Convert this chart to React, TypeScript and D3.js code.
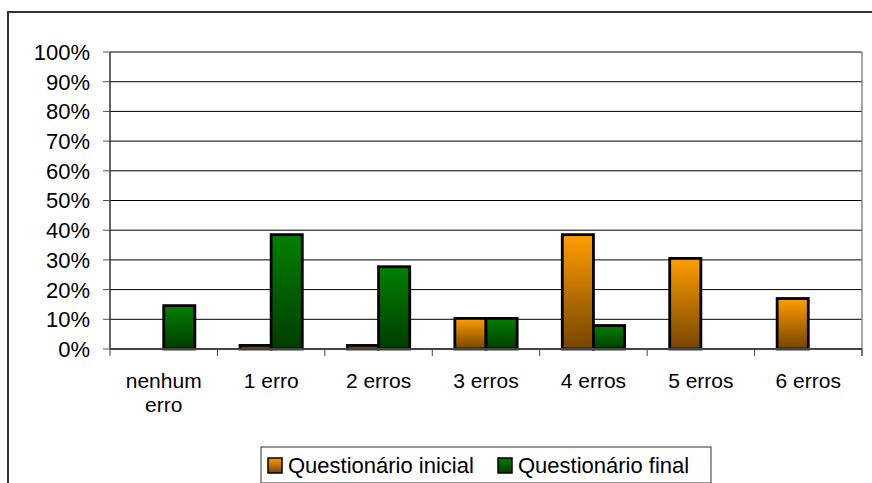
import React from 'react';
import * as d3 from 'd3';

const width = 872;
const height = 483;
const margin = { top: 52, right: 10, bottom: 134, left: 110 };

const categories = ['nenhum erro', '1 erro', '2 erros', '3 erros', '4 erros', '5 erros', '6 erros'];
const seriesNames = ['Questionário inicial', 'Questionário final'];
const inicial = [0, 0.012, 0.012, 0.103, 0.385, 0.305, 0.17];
const final = [0.146, 0.385, 0.277, 0.103, 0.079, 0, 0];
const yTicks = [0, 0.1, 0.2, 0.3, 0.4, 0.5, 0.6, 0.7, 0.8, 0.9, 1];

const font = 'Liberation Sans, Arial, sans-serif';

function App() {
  const x = d3.scaleBand<string>()
    .domain(categories)
    .range([margin.left, width - margin.right])
    .paddingInner(0.42)
    .paddingOuter(0.21);
  const xs = d3.scaleBand<string>().domain(seriesNames).range([0, x.bandwidth()]);
  const y = d3.scaleLinear().domain([0, 1]).range([height - margin.bottom, margin.top]);

  const step = x.step();
  const plotRight = width - margin.right;
  const y0 = y(0);
  const series = [
    { name: seriesNames[0], values: inicial, fill: 'url(#gOrange)' },
    { name: seriesNames[1], values: final, fill: 'url(#gGreen)' },
  ];

  return (
    <svg width={width} height={height} style={{ position: 'absolute', left: 0, top: 0 }}>
      <defs>
        <linearGradient id="gOrange" x1="0" y1="0" x2="0" y2="1">
          <stop offset="0%" stopColor="#ff9d00" />
          <stop offset="100%" stopColor="#774400" />
        </linearGradient>
        <linearGradient id="gGreen" x1="0" y1="0" x2="0" y2="1">
          <stop offset="0%" stopColor="#008000" />
          <stop offset="100%" stopColor="#003c00" />
        </linearGradient>
      </defs>
      <rect x={0} y={0} width={width} height={height} fill="#fff" />
      {/* outer chart border, runs off the picture on right and bottom */}
      <rect x={8} y={12} width={width} height={height} fill="none" stroke="#333" strokeWidth={2} />

      {/* gridlines */}
      {yTicks.map(t => (
        <g key={t}>
          <line x1={margin.left} x2={plotRight} y1={y(t)} y2={y(t)} stroke="#000" strokeWidth={1} />
          <line x1={margin.left - 7} x2={margin.left} y1={y(t)} y2={y(t)} stroke="#555" strokeWidth={1} />
          <text x={90} y={y(t)} dy="0.36em" textAnchor="end" fontFamily={font} fontSize={22} fill="#000">
            {d3.format('.0%')(t)}
          </text>
        </g>
      ))}
      <line x1={margin.left} x2={margin.left} y1={margin.top} y2={y0} stroke="#333" strokeWidth={1.5} />
      <line x1={plotRight} x2={plotRight} y1={margin.top} y2={y0 + 7} stroke="#888" strokeWidth={1.5} />

      {/* bars */}
      {series.map(s =>
        categories.map((c, i) => {
          const v = s.values[i];
          if (!v) return null;
          const bx = (x(c) as number) + (xs(s.name) as number);
          return (
            <rect key={s.name + c} x={bx} y={y(v)} width={xs.bandwidth()} height={y0 - y(v)}
              fill={s.fill} stroke="#000" strokeWidth={2.8} />
          );
        })
      )}

      {/* x axis */}
      <line x1={margin.left} x2={plotRight} y1={y0} y2={y0} stroke="#444" strokeWidth={2} />
      {d3.range(categories.length + 1).map(i => (
        <line key={i} x1={margin.left + i * step} x2={margin.left + i * step} y1={y0} y2={y0 + 7}
          stroke="#444" strokeWidth={1} />
      ))}
      {categories.map(c => {
        const cx = (x(c) as number) + x.bandwidth() / 2;
        const lines = c === 'nenhum erro' ? ['nenhum', 'erro'] : [c];
        return (
          <text key={c} x={cx} y={388} textAnchor="middle" fontFamily={font} fontSize={21} fill="#000">
            {lines.map((l, j) => (
              <tspan key={l} x={cx} dy={j === 0 ? 0 : 24}>{l}</tspan>
            ))}
          </text>
        );
      })}

      {/* legend */}
      <rect x={261} y={447} width={450} height={36} fill="#fff" stroke="#333" strokeWidth={1} />
      {series.map((s, i) => {
        const lx = i === 0 ? 268 : 498;
        return (
          <g key={s.name}>
            <rect x={lx} y={458} width={14} height={15} fill={s.fill} stroke="#000" strokeWidth={1.5} />
            <text x={lx + 20} y={473} fontFamily={font} fontSize={22} fill="#000">{s.name}</text>
          </g>
        );
      })}
    </svg>
  );
}

export default App;
